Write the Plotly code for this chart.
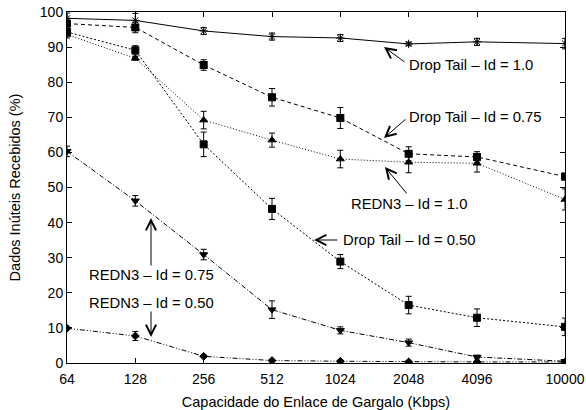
import plotly.graph_objects as go
import math

x_vals = [64, 128, 256, 512, 1024, 2048, 4096, 10000]
x_labels = ["64", "128", "256", "512", "1024", "2048", "4096", "10000"]

dt_100 = [98.2, 97.6, 94.6, 93.0, 92.6, 90.9, 91.5, 91.0]
dt_100_err = [1.5, 2.0, 1.0, 1.0, 1.0, 0.5, 1.0, 1.5]
dt_075 = [96.7, 95.6, 84.9, 75.7, 69.8, 59.6, 58.7, 53.1]
dt_075_err = [1.0, 1.5, 1.5, 2.5, 3.0, 2.0, 1.5, 1.0]
dt_050 = [94.3, 89.1, 62.3, 43.9, 28.9, 16.5, 12.9, 10.3]
dt_050_err = [1.0, 1.3, 3.5, 3.0, 2.0, 2.5, 2.5, 2.5]
red_100 = [93.6, 86.8, 69.2, 63.5, 58.1, 57.2, 56.9, 46.6]
red_100_err = [1.0, 0.5, 2.5, 2.0, 2.5, 3.0, 2.5, 3.0]
red_075 = [60.3, 46.2, 30.9, 15.2, 9.3, 5.8, 1.7, 0.5]
red_075_err = [1.5, 1.5, 1.5, 2.5, 1.0, 1.0, 0.5, 0.5]
red_050 = [9.9, 7.7, 1.9, 0.7, 0.5, 0.3, 0.3, 0.3]
red_050_err = [0.3, 1.3, 0.3, 0.3, 0.3, 0.3, 0.3, 0.3]

series = [
    (dt_100, dt_100_err, "solid", "asterisk-open", 7),
    (dt_075, dt_075_err, "4px,3px", "square-x", 7),
    (dt_050, dt_050_err, "2px,2px", "square", 7),
    (red_100, red_100_err, "1px,2px", "triangle-up", 7),
    (red_075, red_075_err, "5px,2px,1px,2px", "triangle-down", 7),
    (red_050, red_050_err, "5px,2px,1px,2px,1px,2px", "diamond", 6),
]

FAM = "Liberation Sans, Arial, sans-serif"

fig = go.Figure()
for y, e, dash, sym, sz in series:
    fig.add_trace(go.Scatter(
        x=x_vals, y=y, mode="lines+markers",
        line=dict(color="black", width=1, dash=dash),
        marker=dict(symbol=sym, size=sz, color="black",
                    line=dict(color="black", width=1)),
        error_y=dict(type="data", array=e, visible=True, color="black",
                     thickness=1, width=3),
        showlegend=False,
    ))

font = dict(family=FAM, size=14.8, color="black")

L, R, T, B = 67, 565, 12, 363
W, H = R - L, B - T
def px(x):
    return (x - L) / W
def py(y):
    return (B - y) / H

def arrow_text(text, textx, texty, tailx, taily, headx, heady, xanchor="left"):
    fig.add_annotation(x=px(headx), y=py(heady), xref="paper", yref="paper", text="",
                       showarrow=True, arrowhead=5, arrowsize=2, arrowwidth=1,
                       arrowcolor="black", ax=tailx - headx, ay=taily - heady)
    fig.add_annotation(x=px(textx), y=py(texty), xref="paper", yref="paper", text=text,
                       showarrow=False, font=font, xanchor=xanchor, yanchor="middle",
                       borderpad=0)

arrow_text("Drop Tail – Id = 1.0", 408, 65, 406, 63, 384, 47)
arrow_text("Drop Tail – Id = 0.75", 408, 117, 407, 118, 384, 138)
arrow_text("REDN3 – Id = 1.0", 350, 204, 408, 195, 385, 167)
arrow_text("Drop Tail – Id = 0.50", 342, 240, 339, 240, 314, 240)
arrow_text("REDN3 – Id = 0.75", 88, 275, 151, 267, 151, 218)
arrow_text("REDN3 – Id = 0.50", 88, 303, 151, 310, 151, 337)

axis_common = dict(showline=True, linecolor="black", linewidth=1, mirror="allticks",
                   ticks="inside", ticklen=5, tickcolor="black", showgrid=False,
                   zeroline=False, automargin=False,
                   tickfont=dict(family=FAM, size=14, color="black"))
fig.update_xaxes(type="log", range=[math.log10(64), math.log10(10000)],
                 tickvals=x_vals, ticktext=x_labels, ticklabelstandoff=3,
                 title=dict(text="Capacidade do Enlace de Gargalo (Kbps)",
                            font=dict(family=FAM, size=14.5, color="black")),
                 **axis_common)
fig.update_yaxes(range=[0, 100], tickvals=list(range(0, 101, 10)),
                 title=dict(text="Dados Inúteis Recebidos (%)",
                            font=dict(family=FAM, size=14.5, color="black")),
                 **axis_common)
fig.update_layout(width=586, height=410, margin=dict(l=L, r=586 - R, t=T, b=410 - B),
                  plot_bgcolor="white", paper_bgcolor="white")
fig.write_html("out.html")
